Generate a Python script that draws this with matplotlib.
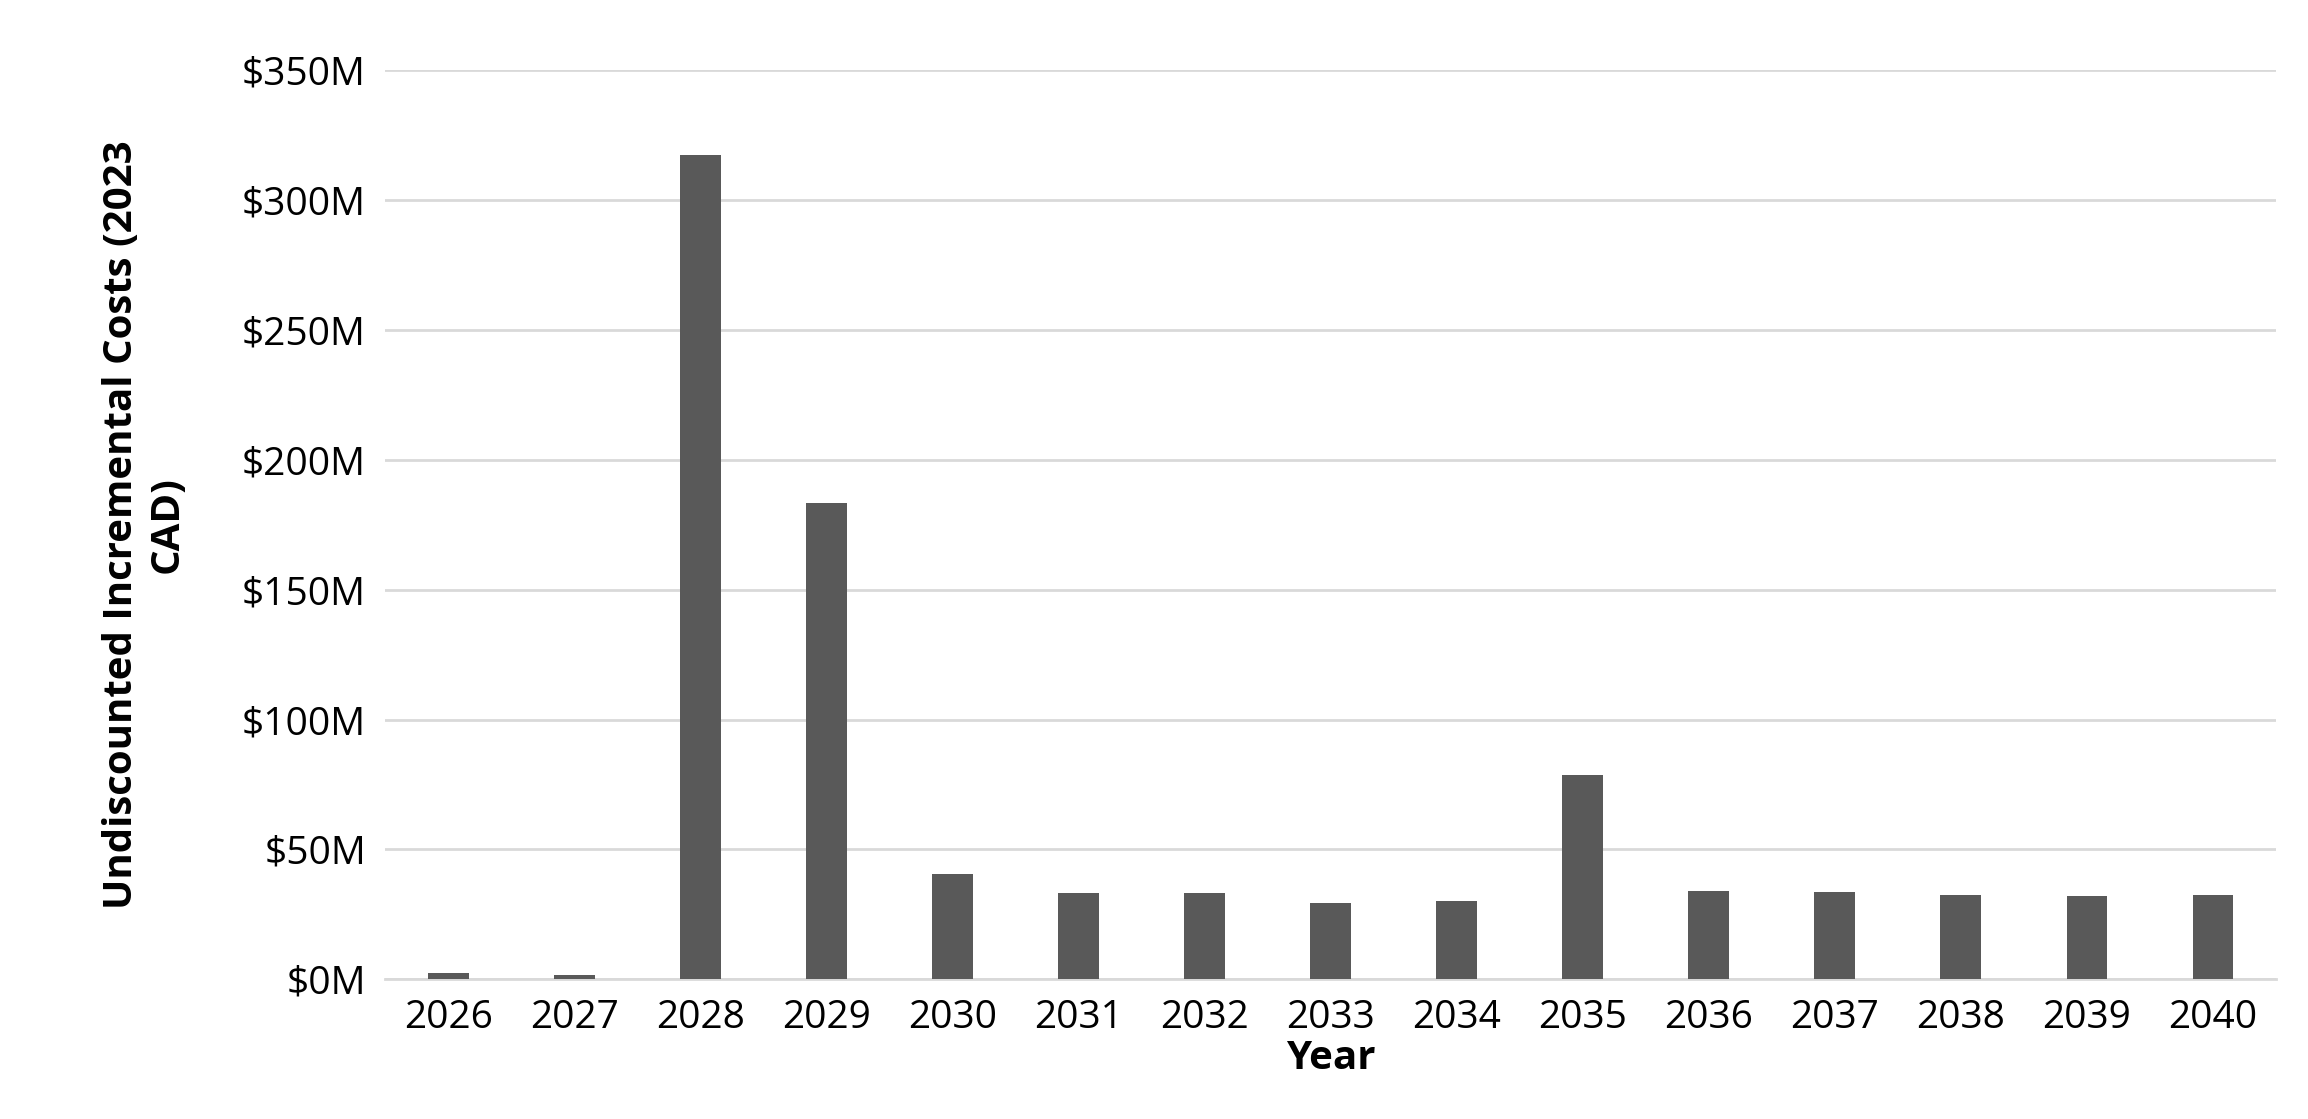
import matplotlib
matplotlib.use("Agg")
import matplotlib.pyplot as plt
from matplotlib.ticker import FuncFormatter, MultipleLocator

years = [str(y) for y in range(2026, 2041)]
costs = [2.5, 1.5, 317.6, 183.5, 40.5, 33, 33, 29.5, 30, 78.5, 34, 33.5, 32.3, 32, 32.3]

plt.rcParams['font.family'] = ['Open Sans', 'DejaVu Sans']
fig = plt.figure(figsize=(23.08, 11.19), dpi=100)
ax = fig.add_axes([0.167, 0.115 + 0.01, 0.819, 0.812])
ax.bar(years, costs, width=0.32, color='#595959', zorder=3)
ax.set_ylim(0, 350)
ax.set_xlim(-0.5, len(years) - 0.5)
ax.yaxis.set_major_locator(MultipleLocator(50))
ax.yaxis.set_major_formatter(FuncFormatter(lambda v, p: f"${v:.0f}M"))
ax.grid(axis='y', color='#d9d9d9', linewidth=2, zorder=0)
for s in ['top', 'right', 'left']:
    ax.spines[s].set_visible(False)
ax.spines['bottom'].set_color('#d9d9d9')
ax.spines['bottom'].set_linewidth(2)
ax.tick_params(axis='both', length=0, labelsize=28, colors='black', pad=14)
ax.set_xlabel('Year', fontsize=29, fontweight='bold', labelpad=2)
ax.set_ylabel('Undiscounted Incremental Costs (2023\nCAD)', fontsize=29, fontweight='bold', labelpad=40)
fig.savefig('out.png', dpi=100)
